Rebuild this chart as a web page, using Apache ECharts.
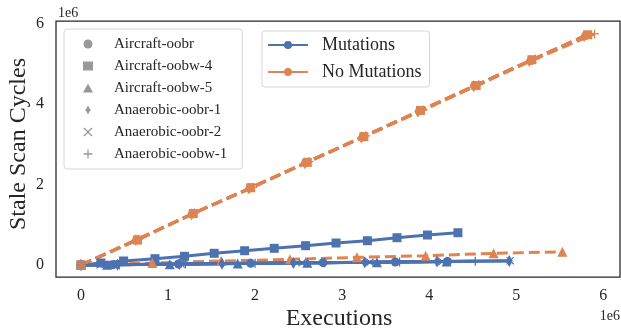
<!DOCTYPE html>
<html><head><meta charset="utf-8">
<script src="https://cdn.jsdelivr.net/npm/echarts@6/dist/echarts.min.js"></script>
<style>html,body{margin:0;padding:0;background:#fff}#c{width:621px;height:331px}</style>
</head><body><div id="c"></div>
<script>
// values in units of 1e6
const benchmarks = ['Aircraft-oobr','Aircraft-oobw-4','Aircraft-oobw-5','Anaerobic-oobr-1','Anaerobic-oobr-2','Anaerobic-oobw-1'];
const groups = ['Mutations','No Mutations'];
const xTicks = [0,1,2,3,4,5,6];
const yTicks = [0,2,4,6];

// Mutations
const mut_aircraftOobr_x  = [0, 0.37, 1.12, 1.95, 2.78, 3.61, 4.21];
const mut_aircraftOobr_y  = [0, 0.008, 0.024, 0.041, 0.058, 0.075, 0.087];
const mut_aircraftOobw4_x = [0, 0.23, 0.49, 0.85, 1.19, 1.53, 1.88, 2.22, 2.58, 2.93, 3.29, 3.63, 3.98, 4.33];
const mut_aircraftOobw4_y = [0, 0.05, 0.10, 0.157, 0.216, 0.291, 0.355, 0.415, 0.48, 0.547, 0.604, 0.678, 0.745, 0.802];
const mut_aircraftOobw5_x = [0, 0.30, 1.02, 1.80, 2.60, 3.40, 4.20];
const mut_aircraftOobw5_y = [0, 0.006, 0.021, 0.037, 0.054, 0.070, 0.087];
const mut_anaerobicOobr1_x = [0, 0.42, 1.13, 1.62, 2.44, 3.26, 4.09, 4.92];
const mut_anaerobicOobr1_y = [0, 0.008, 0.024, 0.034, 0.051, 0.068, 0.085, 0.102];
const mut_anaerobicOobr2_x = [0, 0.22, 1.15, 2.54, 3.32, 4.15, 4.93];
const mut_anaerobicOobr2_y = [0, 0.005, 0.024, 0.053, 0.069, 0.087, 0.104];
const mut_anaerobicOobw1_x = [0, 0.44, 1.20, 2.00, 2.80, 3.66, 4.53];
const mut_anaerobicOobw1_y = [0, 0.009, 0.025, 0.042, 0.058, 0.076, 0.094];

// No Mutations
const no_aircraftOobr_x  = [0, 0.64, 1.28, 1.94, 2.58, 3.24, 3.89, 4.52, 5.17, 5.80];
const no_aircraftOobr_y  = [0, 0.63, 1.27, 1.91, 2.54, 3.18, 3.83, 4.45, 5.08, 5.70];
const no_aircraftOobw4_x = [0, 0.65, 1.29, 1.95, 2.60, 3.25, 3.90, 4.54, 5.18, 5.82];
const no_aircraftOobw4_y = [0, 0.62, 1.28, 1.92, 2.55, 3.19, 3.84, 4.46, 5.10, 5.72];
const no_aircraftOobw5_x = [0, 0.82, 1.61, 2.40, 3.17, 3.96, 4.74, 5.53];
const no_aircraftOobw5_y = [0, 0.05, 0.10, 0.14, 0.19, 0.23, 0.29, 0.33];
const no_anaerobicOobr1_x = [0, 0.63, 1.27, 1.93, 2.57, 3.22, 3.87, 4.51, 5.15, 5.78];
const no_anaerobicOobr1_y = [0, 0.62, 1.26, 1.90, 2.53, 3.17, 3.81, 4.44, 5.07, 5.69];
const no_anaerobicOobr2_x = [0, 0.64, 1.29, 1.95, 2.59, 3.25, 3.90, 4.53, 5.18, 5.83];
const no_anaerobicOobr2_y = [0, 0.63, 1.28, 1.91, 2.55, 3.19, 3.82, 4.46, 5.09, 5.71];
const no_anaerobicOobw1_x = [0, 0.66, 1.30, 1.97, 2.62, 3.27, 3.93, 4.57, 5.22, 5.90];
const no_anaerobicOobw1_y = [0, 0.64, 1.29, 1.93, 2.57, 3.21, 3.85, 4.48, 5.12, 5.74];

const mutSets = [
  [mut_aircraftOobr_x, mut_aircraftOobr_y],
  [mut_aircraftOobw4_x, mut_aircraftOobw4_y],
  [mut_aircraftOobw5_x, mut_aircraftOobw5_y],
  [mut_anaerobicOobr1_x, mut_anaerobicOobr1_y],
  [mut_anaerobicOobr2_x, mut_anaerobicOobr2_y],
  [mut_anaerobicOobw1_x, mut_anaerobicOobw1_y]
];
const noSets = [
  [no_aircraftOobr_x, no_aircraftOobr_y],
  [no_aircraftOobw4_x, no_aircraftOobw4_y],
  [no_aircraftOobw5_x, no_aircraftOobw5_y],
  [no_anaerobicOobr1_x, no_anaerobicOobr1_y],
  [no_anaerobicOobr2_x, no_anaerobicOobr2_y],
  [no_anaerobicOobw1_x, no_anaerobicOobw1_y]
];

const FONT = '"Liberation Serif","Times New Roman",serif';
const BLUE = '#4c72b0', ORANGE = '#dd8452', GRAY = '#808080', INK = '#262626';
const PLUS = 'path://M4.3,0H5.7V4.3H10V5.7H5.7V10H4.3V5.7H0V4.3H4.3Z';
const CROSS = 'path://M1,0L5,4L9,0L10,1L6,5L10,9L9,10L5,6L1,10L0,9L4,5L0,1Z';
const DIAMOND = 'path://M3.5,0L7,6L3.5,12L0,6Z';
const markers = [
  {symbol:'circle', size:9},
  {symbol:'rect', size:9},
  {symbol:'triangle', size:10},
  {symbol:DIAMOND, size:[7,12]},
  {symbol:CROSS, size:8},
  {symbol:PLUS, size:9}
];

function pairs(xs, ys){ return xs.map((x,i)=>[x, ys[i]]); }

const series = [];
benchmarks.forEach((b,i)=>{
  series.push({
    name: b + ' / Mutations', type:'line', data: pairs(mutSets[i][0], mutSets[i][1]),
    symbol: markers[i].symbol, symbolSize: markers[i].size, showSymbol:true,
    lineStyle:{color:BLUE, width:3}, itemStyle:{color:BLUE}, z:3, silent:true
  });
  series.push({
    name: b + ' / No Mutations', type:'line', data: pairs(noSets[i][0], noSets[i][1]),
    symbol: markers[i].symbol, symbolSize: markers[i].size, showSymbol:true,
    lineStyle:{color:ORANGE, width:3, type:[11,5]}, itemStyle:{color:ORANGE}, z:3, silent:true
  });
});
// legend-only series
benchmarks.forEach((b,i)=>{
  series.push({name:b, type:'scatter', data:[], symbol:markers[i].symbol, symbolSize:markers[i].size, itemStyle:{color:GRAY}});
});
series.push({name:groups[0], type:'line', data:[], symbol:'circle', symbolSize:8, lineStyle:{color:BLUE,width:3}, itemStyle:{color:BLUE}});
series.push({name:groups[1], type:'line', data:[], symbol:'circle', symbolSize:8, lineStyle:{color:ORANGE,width:3}, itemStyle:{color:ORANGE}});

const legendIconSizes = [[9,9],[9,9],[10,9],[6,10],[8,8],[9,9]];
const chart = echarts.init(document.getElementById('c'), null, {renderer:'canvas'});
chart.setOption({
  animation:false,
  backgroundColor:'#fff',
  grid:{left:56, top:21, right:1, bottom:54, show:true, borderColor:INK, borderWidth:1.25, backgroundColor:'#fff', containLabel:false},
  xAxis:{type:'value', min:-0.287, max:6.192,
    axisLine:{show:false}, axisTick:{show:false}, splitLine:{show:false},
    axisLabel:{customValues:xTicks, fontFamily:FONT, fontSize:16, color:INK, margin:11, formatter:v=>String(Math.round(v))}},
  yAxis:{type:'value', min:-0.298, max:6.062,
    axisLine:{show:false}, axisTick:{show:false}, splitLine:{show:false},
    axisLabel:{customValues:yTicks, fontFamily:FONT, fontSize:16, color:INK, margin:12, formatter:v=>String(Math.round(v))}},
  legend:[
    {data:benchmarks, orient:'vertical', left:64, top:29, padding:[7,15,7,19],
     itemWidth:10, itemHeight:9, itemGap:6, selectedMode:false,
     textStyle:{fontFamily:FONT, fontSize:15, color:INK, lineHeight:16, padding:[0,0,0,16]},
     borderColor:'#d6d6d6', borderWidth:1, borderRadius:3, backgroundColor:'#fff'},
    {data:groups, orient:'vertical', left:262, top:31, padding:[5,8,6,5],
     itemWidth:40, itemHeight:10, itemGap:9, selectedMode:false,
     textStyle:{fontFamily:FONT, fontSize:18, color:INK, lineHeight:18, padding:[0,0,0,9]},
     borderColor:'#d6d6d6', borderWidth:1, borderRadius:3, backgroundColor:'#fff'}
  ],
  graphic:[
    {type:'text', x:18.5, y:144, rotation:Math.PI/2, style:{text:'Stale Scan Cycles', font:'24px '+FONT, fill:INK, textAlign:'center', textVerticalAlign:'middle'}},
    {type:'text', x:339, y:319, style:{text:'Executions', font:'24px '+FONT, fill:INK, textAlign:'center', textVerticalAlign:'middle'}},
    {type:'text', x:58, y:13, style:{text:'1e6', font:'14px '+FONT, fill:INK, textAlign:'left', textVerticalAlign:'middle'}},
    {type:'text', x:620, y:316, style:{text:'1e6', font:'14px '+FONT, fill:INK, textAlign:'right', textVerticalAlign:'middle'}}
  ],
  series: series
});
</script></body></html>
